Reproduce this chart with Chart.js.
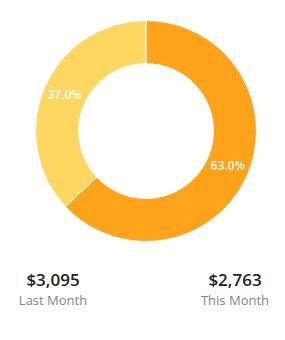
<!DOCTYPE html>
<html>
<head>
<meta charset="utf-8">
<script src="https://cdn.jsdelivr.net/npm/chart.js@4"></script>
<style>
  body { margin: 0; background: #fff; font-family: "Open Sans", sans-serif; }
  #wrap { position: absolute; left: 0; top: 0; width: 285px; height: 242px; }
  .stat { position: absolute; width: 110px; text-align: center; }
  .stat .amt { font-size: 17px; font-weight: 600; color: #222; line-height: 20px; }
  .stat .lbl { font-size: 13px; color: #80868e; line-height: 18px; margin-top: 1px; }
</style>
</head>
<body>
<div id="wrap"><canvas id="canvas"></canvas></div>
<div class="stat" style="left:-2px; top:270px;"><div class="amt" id="amt0"></div><div class="lbl" id="lbl0"></div></div>
<div class="stat" style="left:180px; top:270px;"><div class="amt" id="amt1"></div><div class="lbl" id="lbl1"></div></div>
<script>
// slices, clockwise from the top
let labels = ["This Month", "Last Month"];
let values = [63, 37];
let bgColors = ["#FFA31A", "#FFD660"];

// the two figures under the chart
let periods = ["Last Month", "This Month"];
let amounts = ["$3,095", "$2,763"];

for (var i = 0; i < periods.length; i++) {
  document.getElementById("amt" + i).textContent = amounts[i];
  document.getElementById("lbl" + i).textContent = periods[i];
}

// percent text in the middle of each slice
const pctLabels = {
  id: "pctLabels",
  afterDatasetsDraw(chart) {
    let ctx = chart.ctx;
    let data = chart.data.datasets[0].data;
    let total = data.reduce((a, b) => a + b, 0);
    chart.getDatasetMeta(0).data.forEach((arc, i) => {
      let p = arc.tooltipPosition();
      ctx.save();
      ctx.fillStyle = "#fff";
      ctx.font = '600 12px "Open Sans"';
      ctx.textAlign = "center";
      ctx.textBaseline = "middle";
      ctx.fillText((data[i] / total * 100).toFixed(1) + "%", p.x, p.y);
      ctx.restore();
    });
  }
};

let ctx = document.getElementById("canvas").getContext("2d");
let grafica = new Chart(ctx, {
  type: "doughnut",
  data: {
    labels: labels,
    datasets: [{
      data: values,
      backgroundColor: bgColors,
      borderColor: "#fff",
      borderWidth: 1
    }]
  },
  options: {
    responsive: true,
    maintainAspectRatio: false,
    animation: false,
    cutout: "61%",
    layout: { padding: { top: 20, left: 7, right: 0, bottom: 0 } },
    plugins: {
      legend: { display: false },
      tooltip: { enabled: false }
    }
  },
  plugins: [pctLabels]
});
</script>
</body>
</html>
